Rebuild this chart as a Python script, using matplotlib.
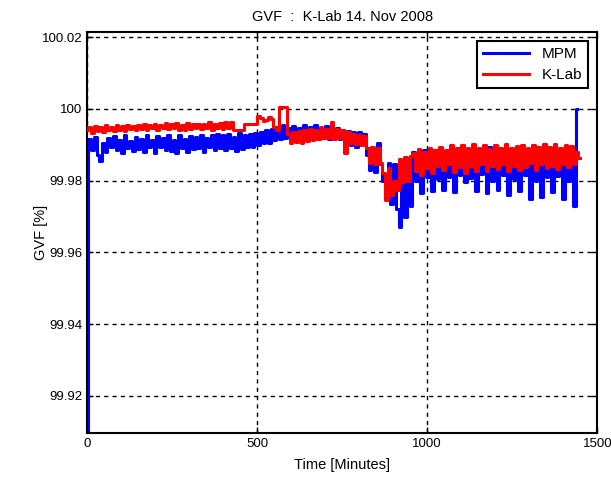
import numpy as np
import matplotlib
matplotlib.use("Agg")
import matplotlib.pyplot as plt

plt.rcParams['font.family'] = ['Liberation Sans', 'DejaVu Sans']

# sampling times (minutes)
time = np.arange(0, 1449, 8)

# MPM (blue) GVF values, one per sample time; start value at t=0
mpm_start = 99.9096
mpm = [
    99.9096, 99.9915, 99.9885, 99.9922, 99.9872, 99.9856, 99.9905, 99.9880, 99.9918, 99.9893,
    99.9925, 99.9884, 99.9912, 99.9876, 99.9928, 99.9890, 99.9910, 99.9882, 99.9922, 99.9887,
    99.9916, 99.9880, 99.9926, 99.9893, 99.9912, 99.9878, 99.9924, 99.9895, 99.9918, 99.9884,
    99.9926, 99.9882, 99.9914, 99.9876, 99.9928, 99.9890, 99.9916, 99.9880, 99.9924, 99.9888,
    99.9922, 99.9892, 99.9928, 99.9880, 99.9920, 99.9894, 99.9926, 99.9884, 99.9930, 99.9890,
    99.9926, 99.9886, 99.9930, 99.9892, 99.9922, 99.9882, 99.9932, 99.9888, 99.9926, 99.9894,
    99.9930, 99.9895, 99.9934, 99.9900, 99.9936, 99.9905, 99.9942, 99.9906, 99.9944, 99.9912,
    99.9950, 99.9915, 99.9954, 99.9920, 99.9946, 99.9912, 99.9952, 99.9918, 99.9946, 99.9914,
    99.9954, 99.9918, 99.9948, 99.9922, 99.9955, 99.9915, 99.9946, 99.9920, 99.9952, 99.9916,
    99.9950, 99.9920, 99.9946, 99.9915, 99.9942, 99.9905, 99.9938, 99.9900, 99.9935, 99.9895,
    99.9935, 99.9898, 99.9930, 99.9870, 99.9830, 99.9885, 99.9825, 99.9904, 99.9845, 99.9800,
    99.9750, 99.9850, 99.9735, 99.9845, 99.9720, 99.9670, 99.9840, 99.9700, 99.9850, 99.9730,
    99.9880, 99.9800, 99.9870, 99.9765, 99.9885, 99.9810, 99.9878, 99.9772, 99.9884, 99.9805,
    99.9890, 99.9775, 99.9880, 99.9810, 99.9892, 99.9768, 99.9885, 99.9815, 99.9890, 99.9795,
    99.9888, 99.9808, 99.9894, 99.9772, 99.9885, 99.9818, 99.9890, 99.9765, 99.9893, 99.9800,
    99.9893, 99.9775, 99.9884, 99.9815, 99.9892, 99.9760, 99.9888, 99.9805, 99.9890, 99.9770,
    99.9885, 99.9815, 99.9888, 99.9748, 99.9880, 99.9800, 99.9886, 99.9755, 99.9884, 99.9810,
    99.9884, 99.9768, 99.9882, 99.9812, 99.9886, 99.9750, 99.9884, 99.9800, 99.9880, 99.9728,
    100.0000,
]

# K-Lab (red) GVF values
klab = [
    99.9940, 99.9948, 99.9934, 99.9952, 99.9938, 99.9950, 99.9935, 99.9954, 99.9940, 99.9950,
    99.9938, 99.9955, 99.9942, 99.9952, 99.9939, 99.9956, 99.9943, 99.9951, 99.9940, 99.9956,
    99.9944, 99.9958, 99.9941, 99.9956, 99.9946, 99.9959, 99.9942, 99.9955, 99.9946, 99.9960,
    99.9943, 99.9957, 99.9946, 99.9961, 99.9942, 99.9956, 99.9940, 99.9960, 99.9945, 99.9957,
    99.9946, 99.9959, 99.9943, 99.9957, 99.9946, 99.9962, 99.9942, 99.9958, 99.9947, 99.9961,
    99.9945, 99.9963, 99.9946, 99.9962, 99.9940, 99.9940, 99.9940, 99.9940, 99.9957, 99.9957,
    99.9957, 99.9957, 99.9958, 99.9980, 99.9975, 99.9966, 99.9970, 99.9976, 99.9972, 99.9950,
    99.9942, 100.0004, 100.0004, 100.0004, 99.9930, 99.9905, 99.9935, 99.9908, 99.9938, 99.9906,
    99.9940, 99.9910, 99.9945, 99.9912, 99.9942, 99.9915, 99.9948, 99.9918, 99.9945, 99.9920,
    99.9962, 99.9915, 99.9945, 99.9918, 99.9940, 99.9878, 99.9935, 99.9905, 99.9930, 99.9902,
    99.9928, 99.9900, 99.9925, 99.9890, 99.9848, 99.9893, 99.9845, 99.9890, 99.9850, 99.9820,
    99.9746, 99.9835, 99.9760, 99.9800, 99.9775, 99.9860, 99.9795, 99.9865, 99.9800, 99.9868,
    99.9878, 99.9828, 99.9888, 99.9815, 99.9880, 99.9835, 99.9890, 99.9820, 99.9885, 99.9840,
    99.9895, 99.9830, 99.9886, 99.9845, 99.9900, 99.9825, 99.9890, 99.9838, 99.9898, 99.9822,
    99.9890, 99.9840, 99.9902, 99.9826, 99.9892, 99.9845, 99.9898, 99.9828, 99.9888, 99.9840,
    99.9898, 99.9832, 99.9890, 99.9846, 99.9902, 99.9828, 99.9892, 99.9840, 99.9897, 99.9830,
    99.9900, 99.9838, 99.9890, 99.9848, 99.9900, 99.9830, 99.9895, 99.9845, 99.9902, 99.9835,
    99.9895, 99.9842, 99.9902, 99.9832, 99.9890, 99.9846, 99.9900, 99.9838, 99.9896, 99.9845,
    99.9880, 99.9862,
]

x_ticks = [0, 500, 1000, 1500]
x_tick_labels = ['0', '500', '1000', '1500']
y_ticks = [99.92, 99.94, 99.96, 99.98, 100.0, 100.02]
y_tick_labels = ['99.92', '99.94', '99.96', '99.98', '100', '100.02']

title = 'GVF  :  K-Lab 14. Nov 2008'
xlabel = 'Time [Minutes]'
ylabel = 'GVF [%]'
series_names = ['MPM', 'K-Lab']

fig = plt.figure(figsize=(6.11, 4.80), dpi=100)
ax = fig.add_axes([0.1424, 0.0973, 0.8352, 0.836])

t_mpm = np.concatenate([[0], time[:len(mpm)]])
ax.plot(t_mpm, [mpm_start] + mpm, color='#0000ff', lw=2.2, drawstyle='steps-mid',
        label=series_names[0], zorder=2)
ax.plot(time[:len(klab)], klab, color='#ff0000', lw=2.2, drawstyle='steps-mid',
        label=series_names[1], zorder=3)

ax.set_xlim(0, 1500)
ax.set_ylim(99.9096, 100.0214)
ax.set_xticks(x_ticks)
ax.set_xticklabels(x_tick_labels)
ax.set_yticks(y_ticks)
ax.set_yticklabels(y_tick_labels)
ax.tick_params(direction='in', length=4, width=1, labelsize=9.5, top=True, right=True)

ax.grid(True, color='black', linestyle=(0, (3, 3)), linewidth=1.0)
ax.set_axisbelow(True)
for s in ax.spines.values():
    s.set_linewidth(1.5)
    s.set_color('black')

ax.set_title(title, fontsize=10.5, pad=8)
ax.set_xlabel(xlabel, fontsize=10.5, labelpad=6)
ax.set_ylabel(ylabel, fontsize=10.5)
ax.yaxis.set_label_coords(-0.076, 0.5)

leg = ax.legend(loc='upper right', fontsize=11, fancybox=False, framealpha=1,
                edgecolor='black', borderaxespad=0.6, handlelength=3.0,
                borderpad=0.4, labelspacing=0.45)
leg.get_frame().set_linewidth(1.5)

fig.savefig('out.png', dpi=100)
